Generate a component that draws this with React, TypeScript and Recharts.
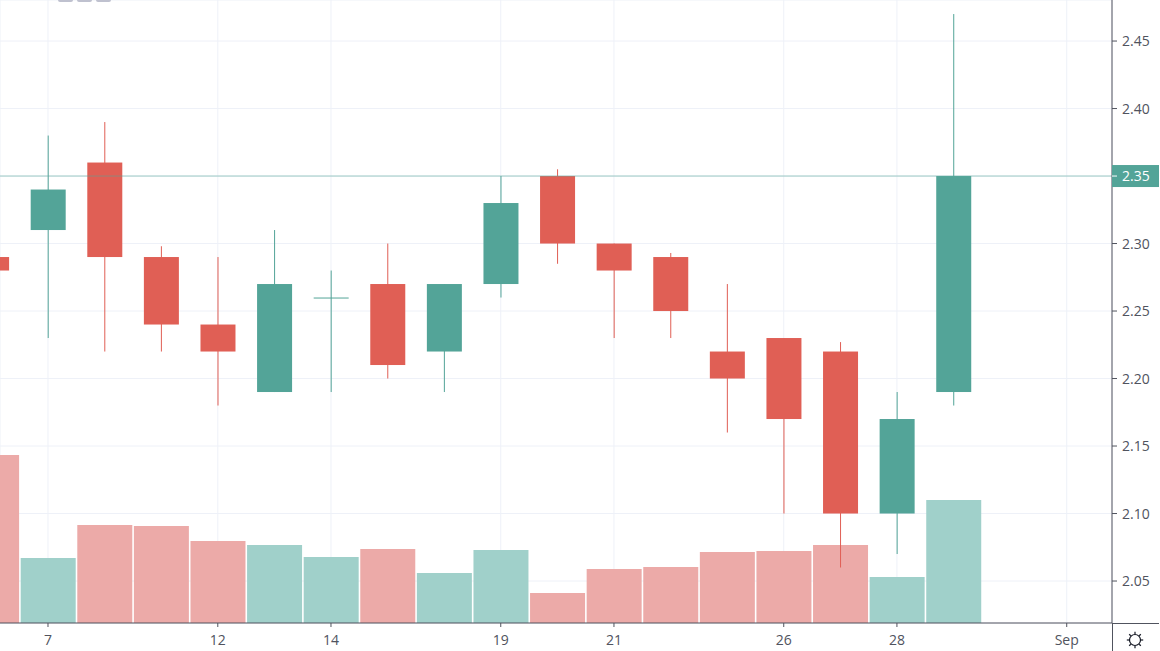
import { Bar, CartesianGrid, ComposedChart, ReferenceLine, XAxis, YAxis } from 'recharts'

const positions = [-1, 0, 1, 2, 3, 4, 5, 6, 7, 8, 9, 10, 11, 12, 13, 14, 15, 16]
const opens = [2.29, 2.31, 2.36, 2.29, 2.24, 2.19, 2.26, 2.27, 2.22, 2.27, 2.35, 2.3, 2.29, 2.22, 2.23, 2.22, 2.1, 2.19]
const highs = [2.31, 2.38, 2.39, 2.298, 2.29, 2.31, 2.28, 2.3, 2.27, 2.35, 2.355, 2.3, 2.293, 2.27, 2.23, 2.227, 2.19, 2.47]
const lows = [2.27, 2.23, 2.22, 2.22, 2.18, 2.19, 2.19, 2.2, 2.19, 2.26, 2.285, 2.23, 2.23, 2.16, 2.1, 2.06, 2.07, 2.18]
const closes = [2.28, 2.34, 2.29, 2.24, 2.22, 2.27, 2.26, 2.21, 2.27, 2.33, 2.3, 2.28, 2.25, 2.2, 2.17, 2.1, 2.17, 2.35]
const volumes = [16.8, 6.5, 9.8, 9.7, 8.2, 7.8, 6.6, 7.4, 5, 7.3, 3, 5.4, 5.6, 7.1, 7.2, 7.8, 4.6, 12.3]

const dayTicks = [0, 3, 5, 8, 10, 13, 15, 18]
const dayLabels = ['7', '12', '14', '19', '21', '26', '28', 'Sep']
const priceTicks = [2.05, 2.1, 2.15, 2.2, 2.25, 2.3, 2.35, 2.4, 2.45]
const lastPrice = 2.35

const UP = '#53a498'
const DOWN = '#e05f55'
const UP_VOL = '#a0d0ca'
const DOWN_VOL = '#ecaaa8'
const TEXT = '#50535e'
const FONT = '"Open Sans", sans-serif'

const chartData = positions.map((pos, i) => ({
  pos,
  up: closes[i] >= opens[i],
  body: [Math.min(opens[i], closes[i]), Math.max(opens[i], closes[i])],
  wick: [lows[i], highs[i]],
  volume: volumes[i],
}))

function Candle(props: any) {
  const { x, y, width, height, payload } = props
  const top = height < 0 ? y + height : y
  return <rect x={x} y={top} width={width} height={Math.max(Math.abs(height), 1)} fill={payload.up ? UP : DOWN} />
}

function VolumeBar(props: any) {
  const { x, y, width, height, payload } = props
  return <rect x={x} y={y} width={width} height={height} fill={payload.up ? UP_VOL : DOWN_VOL} />
}

function PriceTick(props: any) {
  const { y, payload } = props
  const axisX = 1112
  const isLast = payload.value === lastPrice
  return (
    <g>
      {isLast && <rect x={axisX} y={y - 11} width={47} height={22} fill={UP} />}
      <line x1={axisX} x2={axisX + 5} y1={y} y2={y} stroke={isLast ? '#ffffff' : TEXT} />
      <text x={axisX + 10} y={y + 5} fill={isLast ? '#ffffff' : TEXT} fontSize={14} fontFamily={FONT}>
        {payload.value.toFixed(2)}
      </text>
    </g>
  )
}

function DayTick(props: any) {
  const { x, payload } = props
  return (
    <g>
      <line x1={x} x2={x} y1={623} y2={627} stroke={TEXT} />
      <text x={x} y={645} textAnchor="middle" fill={TEXT} fontSize={14} fontFamily={FONT}>
        {dayLabels[dayTicks.indexOf(payload.value)]}
      </text>
    </g>
  )
}

export default function App() {
  const xDomain = [-0.848, 18.8]
  return (
    <div style={{ position: 'fixed', left: 0, top: 0, width: 1160, height: 651, background: '#ffffff', overflow: 'hidden' }}>
      <ComposedChart width={1160} height={651} data={chartData} margin={{ top: 0, right: 0, bottom: 0, left: 0 }}>
        <CartesianGrid stroke="#eef1f8" xAxisId="main" yAxisId="price" />
        <XAxis
          xAxisId="main"
          dataKey="pos"
          type="number"
          domain={xDomain}
          allowDataOverflow
          ticks={dayTicks}
          height={28}
          tickLine={false}
          tick={<DayTick />}
          axisLine={{ stroke: TEXT }}
          interval={0}
        />
        <XAxis xAxisId="wick" dataKey="pos" type="number" domain={xDomain} allowDataOverflow hide />
        <XAxis xAxisId="vol" dataKey="pos" type="number" domain={xDomain} allowDataOverflow hide />
        <YAxis
          yAxisId="price"
          orientation="right"
          width={48}
          domain={[2.0189, 2.4804]}
          allowDataOverflow
          ticks={priceTicks}
          tickLine={false}
          tick={<PriceTick />}
          axisLine={{ stroke: TEXT }}
          interval={0}
        />
        <YAxis yAxisId="vol" orientation="right" domain={[0, 62.3]} hide />
        <Bar xAxisId="vol" yAxisId="vol" dataKey="volume" barSize={55} shape={<VolumeBar />} isAnimationActive={false} />
        <ReferenceLine xAxisId="main" yAxisId="price" y={lastPrice} stroke={UP} strokeOpacity={0.55} />
        <Bar xAxisId="wick" yAxisId="price" dataKey="wick" barSize={1} shape={<Candle />} isAnimationActive={false} />
        <Bar xAxisId="main" yAxisId="price" dataKey="body" barSize={35} shape={<Candle />} isAnimationActive={false} />
      </ComposedChart>
      <div style={{ position: 'absolute', left: 1112, top: 623, width: 47, height: 1, background: TEXT }} />
      <div style={{ position: 'absolute', left: 1112, top: 623, width: 1, height: 28, background: TEXT }} />
      {[58, 77, 96].map((left) => (
        <div key={left} style={{ position: 'absolute', left, top: 0, width: 15, height: 2, background: '#bfc1cf', borderRadius: '0 0 2px 2px' }} />
      ))}
      <svg style={{ position: 'absolute', left: 1125, top: 630 }} width={20} height={20} viewBox="0 0 20 20">
        <circle cx={10} cy={10} r={5.5} fill="none" stroke="#131722" strokeWidth={1.2} />
        {[0, 45, 90, 135, 180, 225, 270, 315].map((a) => (
          <line key={a} x1={10} y1={1.8} x2={10} y2={4} stroke="#131722" strokeWidth={1.2} transform={`rotate(${a} 10 10)`} />
        ))}
      </svg>
    </div>
  )
}
